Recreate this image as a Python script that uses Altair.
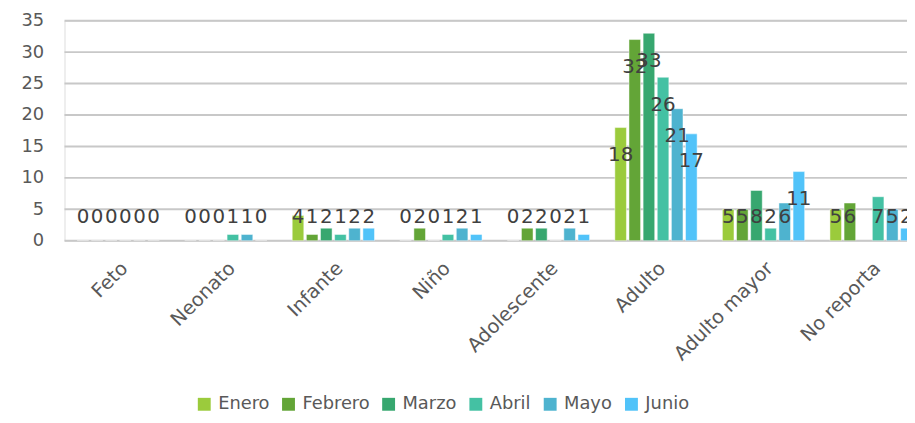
import altair as alt
import pandas as pd

categories = ["Feto", "Neonato", "Infante", "Niño", "Adolescente", "Adulto", "Adulto mayor", "No reporta"]
months = ["Enero", "Febrero", "Marzo", "Abril", "Mayo", "Junio"]
enero   = [0, 0, 4, 0, 0, 18, 5, 5]
febrero = [0, 0, 1, 2, 2, 32, 5, 6]
marzo   = [0, 0, 2, 0, 2, 33, 8, None]
abril   = [0, 1, 1, 1, 0, 26, 2, 7]
mayo    = [0, 1, 2, 2, 2, 21, 6, 5]
junio   = [0, 0, 2, 1, 1, 17, 11, 2]
colors = ["#9BCB3C", "#63A537", "#37A76F", "#44C1A3", "#4EB3CF", "#51C3F9"]
y_ticks = [0, 5, 10, 15, 20, 25, 30, 35]

series = [enero, febrero, marzo, abril, mayo, junio]
rows = []
for m, vals in zip(months, series):
    for c, v in zip(categories, vals):
        rows.append({"categoria": c, "mes": m, "valor": v})
df = pd.DataFrame(rows)
grid_df = pd.DataFrame({"tick": y_ticks})

FONT = "DejaVu Sans"

x_scale = alt.Scale(range=[0, 868], paddingInner=0.235, paddingOuter=0.1175)
x_axis = alt.Axis(labelAngle=-45, labelFontSize=19.5, labelColor="#595959",
                  labelFont=FONT, ticks=False, domain=False,
                  labelPadding=18, grid=False, labelOverlap=False)
y_scale = alt.Scale(domain=[0, 35], nice=False)
y_axis = alt.Axis(values=y_ticks, labelFontSize=18, labelOverlap=False, grid=False,
                  labelColor="#595959", labelFont=FONT, ticks=False, domain=False,
                  labelPadding=21)
xoff_scale = alt.Scale(paddingInner=0.18)

grid = alt.Chart(grid_df).mark_rule(color="#c8c8c8", strokeWidth=2).encode(
    y=alt.Y("tick:Q", title=None, scale=y_scale, axis=y_axis),
    x=alt.value(0), x2=alt.value(850),
)

bars = alt.Chart(df).mark_bar(clip=True, stroke="white", strokeWidth=0.8, strokeOpacity=0.6).encode(
    x=alt.X("categoria:N", sort=categories, title=None, scale=x_scale, axis=x_axis),
    xOffset=alt.XOffset("mes:N", sort=months, scale=xoff_scale),
    y=alt.Y("valor:Q", title=None, scale=y_scale, axis=y_axis),
    color=alt.Color("mes:N", sort=months, scale=alt.Scale(domain=months, range=colors),
                    legend=alt.Legend(title=None, orient="none", direction="horizontal",
                                      legendX=132, legendY=378, symbolType="square",
                                      symbolSize=169, symbolStrokeWidth=0,
                                      labelFontSize=18, labelColor="#595959", labelFont=FONT,
                                      columnPadding=10, labelOffset=5)),
)

labels = alt.Chart(df).transform_filter("datum.valor != null").transform_calculate(
    pos="max(datum.valor - 4.4, 3.8)"
).mark_text(fontSize=20, color="#404040", font=FONT, baseline="middle", clip=True).encode(
    x=alt.X("categoria:N", sort=categories, title=None, scale=x_scale, axis=x_axis),
    xOffset=alt.XOffset("mes:N", sort=months, scale=xoff_scale),
    y=alt.Y("pos:Q", title=None, scale=y_scale, axis=y_axis),
    text=alt.Text("valor:Q"),
)

chart = alt.layer(grid, bars, labels).properties(
    width=850, height=222,
    autosize=alt.AutoSizeParams(type="none"),
    padding={"left": 57, "top": 11, "right": 0, "bottom": 174},
).configure_view(strokeWidth=0).configure(background="white")

chart.save("out.html", embed_options={"renderer": "svg", "actions": False})
